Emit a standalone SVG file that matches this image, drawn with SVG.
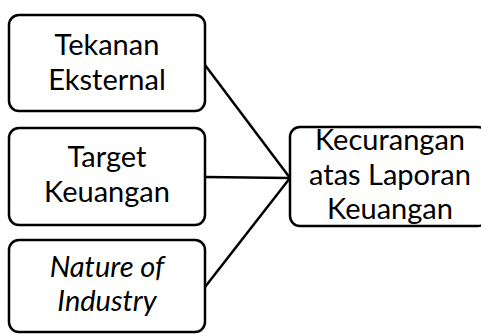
<svg xmlns="http://www.w3.org/2000/svg" width="481" height="334" viewBox="0 0 481 334">
<style>
.box{fill:#fff;stroke:#000;stroke-width:2.5}
.t{font-family:Lato,"Open Sans",sans-serif;font-size:29px;fill:#000;text-anchor:middle}
.i{font-style:italic}
.c{stroke:#000;stroke-width:2.5;fill:none}
</style>
<rect width="481" height="334" fill="#fff"/>
<g id="connectors">
<line class="c" x1="205" y1="65" x2="290" y2="178"/>
<line class="c" x1="205" y1="177" x2="290" y2="178"/>
<line class="c" x1="205" y1="287" x2="290" y2="178"/>
</g>
<g id="node-tekanan">
<rect class="box" x="9" y="15" width="196" height="96" rx="10"/>
<text class="t" x="107" y="55">Tekanan</text>
<text class="t" x="107" y="90">Eksternal</text>
</g>
<g id="node-target">
<rect class="box" x="9" y="128" width="196" height="97" rx="10"/>
<text class="t" x="107" y="167">Target</text>
<text class="t" x="107" y="202">Keuangan</text>
</g>
<g id="node-nature">
<rect class="box" x="9" y="240" width="196" height="92" rx="10"/>
<text class="t i" x="107" y="277">Nature of</text>
<text class="t i" x="107" y="311">Industry</text>
</g>
<g id="node-kecurangan">
<rect class="box" x="290" y="127" width="198" height="99" rx="10"/>
<text class="t" x="390" y="150">Kecurangan</text>
<text class="t" x="390" y="185">atas Laporan</text>
<text class="t" x="390" y="219">Keuangan</text>
</g>
</svg>
